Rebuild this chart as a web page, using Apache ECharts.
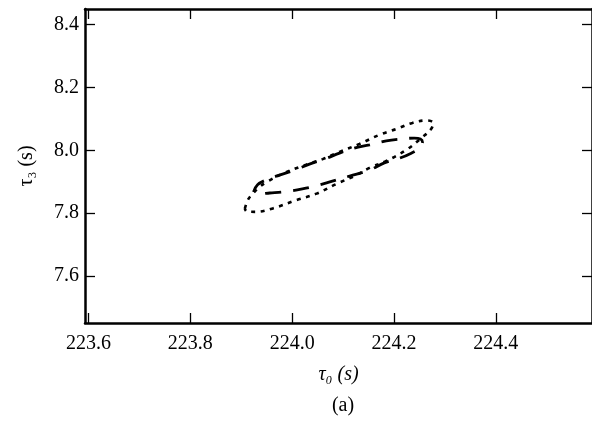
<!DOCTYPE html>
<html>
<head>
<meta charset="utf-8">
<script src="https://cdn.jsdelivr.net/npm/echarts@6/dist/echarts.min.js"></script>
<style>
  html, body { margin: 0; padding: 0; background: #fff; }
  #chart { width: 592px; height: 424px; }
</style>
</head>
<body>
<div id="chart"></div>
<script>
// Tick values
const xTicks = [223.6, 223.8, 224.0, 224.2, 224.4];
const yTicks = [7.6, 7.8, 8.0, 8.2, 8.4];

// Dotted contour
const dottedX = [223.907, 223.913, 223.922, 223.936, 223.950, 223.981, 224.020, 224.060, 224.093, 224.132, 224.171, 224.205, 224.236, 224.264, 224.277, 224.273, 224.256, 224.224, 224.185, 224.152, 224.126, 224.087, 224.048, 224.009, 223.962, 223.928, 223.911, 223.907];
const dottedY = [7.814, 7.842, 7.861, 7.883, 7.899, 7.925, 7.950, 7.972, 7.995, 8.020, 8.049, 8.068, 8.087, 8.095, 8.087, 8.068, 8.042, 8.001, 7.966, 7.944, 7.921, 7.893, 7.862, 7.842, 7.815, 7.804, 7.805, 7.814];

// Dashed contour
const dashedX = [223.924, 223.932, 223.948, 223.975, 224.005, 224.034, 224.068, 224.093, 224.122, 224.152, 224.185, 224.215, 224.240, 224.252, 224.256, 224.250, 224.234, 224.211, 224.181, 224.152, 224.113, 224.079, 224.050, 224.020, 223.989, 223.956, 223.932, 223.924];
const dashedY = [7.867, 7.890, 7.905, 7.921, 7.937, 7.956, 7.975, 7.991, 8.007, 8.017, 8.030, 8.036, 8.039, 8.036, 8.026, 8.007, 7.991, 7.975, 7.960, 7.937, 7.918, 7.902, 7.888, 7.877, 7.869, 7.864, 7.861, 7.867];

const xName = '\u03C4\u2080 (s)';
const yName = '\u03C4\u2083 (s)';
const caption = '(a)';

const FONT = '"Liberation Serif", "DejaVu Serif", serif';
const zip = (a, b) => a.map((v, i) => [v, b[i]]);

const X_MIN = 223.593, X_MAX = 224.589;
const Y_MIN = 7.45, Y_MAX = 8.45;

const chart = echarts.init(document.getElementById('chart'), null, { renderer: 'canvas' });

const spine = { show: true, onZero: false, lineStyle: { color: '#000', width: 2.5 } };
const tickIn = (vals) => ({ show: true, inside: true, length: 10, customValues: vals, lineStyle: { color: '#000', width: 1.3 } });

chart.setOption({
  backgroundColor: '#fff',
  animation: false,
  grid: { left: 85, right: -1, top: 9, bottom: 101, containLabel: false },
  title: {
    text: caption, left: 338, top: 391, textAlign: 'center',
    textStyle: { fontFamily: FONT, fontSize: 20, fontWeight: 'normal', color: '#000' }
  },
  xAxis: [
    {
      type: 'value', position: 'bottom', min: X_MIN, max: X_MAX,
      axisLine: spine, axisTick: tickIn(xTicks), splitLine: { show: false },
      axisLabel: { customValues: xTicks, formatter: v => v.toFixed(1), fontFamily: FONT, fontSize: 20, color: '#000', margin: 11 },
      name: xName, nameLocation: 'middle', nameGap: 42,
      nameTextStyle: { fontFamily: FONT, fontSize: 20, color: '#000', fontStyle: 'italic' }
    },
    {
      type: 'value', position: 'top', min: X_MIN, max: X_MAX,
      axisLine: spine, axisTick: tickIn(xTicks), axisLabel: { show: false }, splitLine: { show: false }
    }
  ],
  yAxis: [
    {
      type: 'value', position: 'left', min: Y_MIN, max: Y_MAX,
      axisLine: spine, axisTick: tickIn(yTicks), splitLine: { show: false },
      axisLabel: { customValues: yTicks, formatter: v => v.toFixed(1), fontFamily: FONT, fontSize: 20, color: '#000', margin: 6 },
      name: yName, nameLocation: 'middle', nameGap: 48,
      nameTextStyle: { fontFamily: FONT, fontSize: 20, color: '#000' }
    },
    {
      type: 'value', position: 'right', min: Y_MIN, max: Y_MAX,
      axisLine: spine, axisTick: tickIn(yTicks), axisLabel: { show: false }, splitLine: { show: false }
    }
  ],
  series: [
    {
      type: 'line', xAxisIndex: 0, yAxisIndex: 0,
      data: zip(dottedX, dottedY), smooth: 0.4, symbol: 'none',
      lineStyle: { color: '#000', width: 2.6, type: [4, 5.5], cap: 'butt' }
    },
    {
      type: 'line', xAxisIndex: 0, yAxisIndex: 0,
      data: zip(dashedX, dashedY), smooth: 0.4, symbol: 'none',
      lineStyle: { color: '#000', width: 2.8, type: [16, 12], cap: 'butt' }
    }
  ]
});
</script>
</body>
</html>
